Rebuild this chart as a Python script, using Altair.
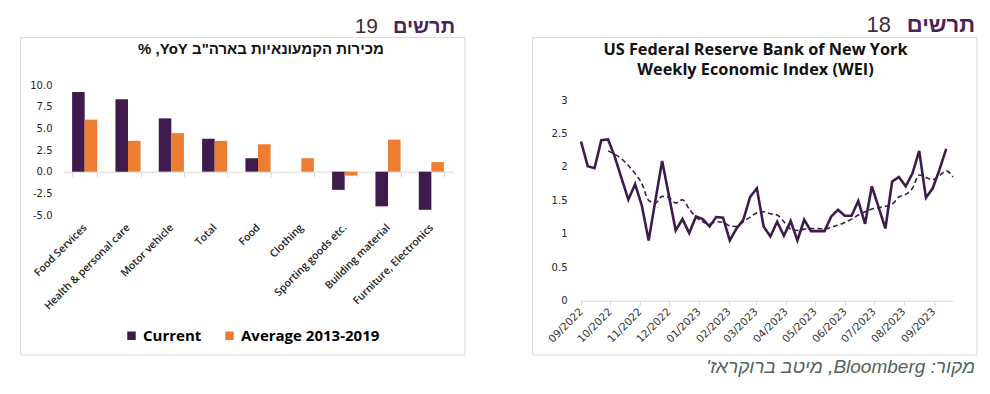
import altair as alt
import pandas as pd

# ---------------- data: chart 19 (bars) ----------------
categories = ["Food Services", "Health & personal care", "Motor vehicle", "Total", "Food",
              "Clothing", "Sporting goods etc.", "Building material", "Furniture, Electronics"]
current = [9.2, 8.35, 6.15, 3.8, 1.55, 0.0, -2.1, -4.0, -4.4]
average = [6.0, 3.55, 4.45, 3.55, 3.15, 1.55, -0.45, 3.7, 1.1]
series_names = ["Current", "Average 2013-2019"]
bar_colors = ["#3f1a4d", "#ed7d31"]
left_y_ticks = [-5, -2.5, 0, 2.5, 5, 7.5, 10]

# ---------------- data: chart 18 (WEI lines) ----------------
wei_start = "2022-09-03"
wei = [2.38, 2.01, 1.98, 2.40, 2.41, 2.15, 1.83, 1.51, 1.74, 1.42, 0.90, 1.50, 2.09, 1.57,
       1.05, 1.22, 1.01, 1.26, 1.22, 1.11, 1.25, 1.24, 0.90, 1.08, 1.21, 1.55, 1.68,
       1.11, 0.96, 1.18, 0.97, 1.19, 0.90, 1.21, 1.04, 1.04, 1.04, 1.26, 1.36, 1.27, 1.27,
       1.49, 1.15, 1.71, 1.40, 1.08, 1.78, 1.85, 1.71, 1.90, 2.24, 1.54, 1.68, 1.96, 2.27]
wei_avg_offset = 4
wei_avg = [2.24, 2.19, 2.12, 2.02, 1.90, 1.75, 1.50, 1.46, 1.56, 1.54,
           1.46, 1.51, 1.37, 1.25, 1.18, 1.15, 1.18, 1.17, 1.12, 1.11,
           1.18, 1.25, 1.31, 1.33, 1.30, 1.28, 1.18, 1.07, 1.05, 1.07,
           1.08, 1.08, 1.07, 1.10, 1.13, 1.17, 1.22, 1.28, 1.33, 1.37,
           1.39, 1.41, 1.44, 1.55, 1.59, 1.68, 1.88, 1.84, 1.81, 1.87,
           1.94, 1.85]
tick_months = [(2022, 9), (2022, 10), (2022, 11), (2022, 12), (2023, 1), (2023, 2), (2023, 3),
               (2023, 4), (2023, 5), (2023, 6), (2023, 7), (2023, 8), (2023, 9)]
right_y_ticks = [0, 0.5, 1, 1.5, 2, 2.5, 3]

# ---------------- text ----------------
RLE, PDF = "\u202B", "\u202C"
left_heading_word = "תרשים"
left_heading_num = "19"
right_heading_word = "תרשים"
right_heading_num = "18"
left_title = "מכירות הקמעונאיות בארה\"ב YoY, %"
right_title_1 = "US Federal Reserve Bank of New York"
right_title_2 = "Weekly Economic Index (WEI)"
footer = "מקור: Bloomberg, מיטב ברוקראז'"

# ---------------- frames ----------------
df_bars = pd.DataFrame({
    "category": categories * 2,
    "series": [series_names[0]] * len(categories) + [series_names[1]] * len(categories),
    "value": current + average,
})
dates = pd.date_range(wei_start, periods=len(wei_avg) + wei_avg_offset, freq="7D").strftime("%Y-%m-%d").tolist()
df_wei = pd.DataFrame({"date": dates[:len(wei)], "value": wei})
df_avg = pd.DataFrame({"date": dates[wei_avg_offset:wei_avg_offset + len(wei_avg)], "value": wei_avg})
one = pd.DataFrame({"a": [0]})

W, H = 974, 378
PURPLE = "#3f1a4d"
GRID = "#d9d9d9"

# ---------------- left chart ----------------
left_y0 = 207 - (5 / 15) * 130  # pixel of value 0
bars = alt.Chart(df_bars).mark_bar().encode(
    x=alt.X("category:N", sort=categories,
            scale=alt.Scale(domain=categories, range=[55, 445], paddingInner=0.42, paddingOuter=0.21),
            axis=alt.Axis(orient="bottom", offset=left_y0 - H, title=None,
                          domainColor=GRID, tickColor=GRID, tickSize=5, tickBand="extent",
                          labelAngle=-45, labelAlign="right", labelBaseline="middle",
                          labelPadding=49, labelOverlap=False, labelFlush=False, labelBound=False,
                          labelFont="Open Sans", labelFontSize=10.5, labelFontWeight=600,
                          labelColor="#222222")),
    xOffset=alt.XOffset("series:N", sort=series_names, scale=alt.Scale(domain=series_names, paddingInner=0)),
    y=alt.Y("value:Q",
            scale=alt.Scale(domain=[-5, 10], range=[207, 77], nice=False, zero=False),
            axis=alt.Axis(orient="left", offset=-55, values=left_y_ticks, title=None,
                          domain=False, ticks=False, tickSize=0, grid=False, labelPadding=11,
                          labelExpr="datum.value < 0 ? '-' + format(-datum.value, '.1f') : format(datum.value, '.1f')",
                          labelFont="DejaVu Sans", labelFontSize=10, labelColor="#262626")),
    color=alt.Color("series:N", sort=series_names,
                    scale=alt.Scale(domain=series_names, range=bar_colors),
                    legend=alt.Legend(orient="none", legendX=116, legendY=320, direction="horizontal",
                                      title=None, symbolType="square", symbolSize=72,
                                      symbolStrokeWidth=0, labelFont="Open Sans", labelFontSize=15,
                                      labelFontWeight="bold", labelColor="#000000",
                                      columnPadding=20, labelOffset=4, padding=0)),
)
left = alt.layer(bars)

# ---------------- right chart ----------------
x_scale = alt.Scale(type="utc",
                    domain=[alt.DateTime(year=2022, month=9, date=3, utc=True),
                            alt.DateTime(year=2023, month=9, date=23, utc=True)],
                    range=[573, 945])
y_scale_r = alt.Scale(domain=[0, 3], range=[292.7, 92], nice=False)
x_axis_r = alt.Axis(orient="bottom", offset=292.7 - H, title=None,
                    values=[alt.DateTime(year=y, month=m, date=3, utc=True) for y, m in tick_months],
                    format="%m/%Y", domainColor=GRID, tickColor=GRID, tickSize=4, grid=False,
                    labelAngle=-45, labelAlign="right", labelBaseline="middle", labelPadding=5,
                    labelOverlap=False, labelFlush=False, labelBound=False,
                    labelFont="DejaVu Sans", labelFontSize=10.5, labelColor="#333333")
y_axis_r = alt.Axis(orient="left", offset=-573, values=right_y_ticks, format="~g", title=None,
                    domain=False, ticks=False, tickSize=0, grid=False, labelPadding=14,
                    labelFont="DejaVu Sans", labelFontSize=10, labelColor="#262626")

solid = alt.Chart(df_wei).mark_line(color=PURPLE, strokeWidth=2.6).encode(
    x=alt.X("date:T", scale=x_scale, axis=x_axis_r),
    y=alt.Y("value:Q", scale=y_scale_r, axis=y_axis_r),
)
dashed = alt.Chart(df_avg).mark_line(color=PURPLE, strokeWidth=1.6, strokeDash=[5, 3],
                                     interpolate="monotone").encode(
    x=alt.X("date:T", scale=x_scale),
    y=alt.Y("value:Q", scale=y_scale_r),
)
right = alt.layer(solid, dashed)

# ---------------- decorations ----------------
def box(x1, x2, y1, y2):
    return alt.Chart(one).mark_rect(fill="white", fillOpacity=0, stroke=GRID, strokeWidth=1).encode(
        x=alt.value(x1), x2=alt.value(x2), y=alt.value(y1), y2=alt.value(y2))

def txt(s, x, y, **kw):
    return alt.Chart(one).mark_text(text=s, **kw).encode(x=alt.value(x), y=alt.value(y))

decor = [
    box(12.5, 457, 29.5, 347),
    box(524.5, 969, 29.5, 347),
    txt(left_heading_word, 447, 25, font="Liberation Sans", fontSize=20, fontWeight="bold",
        color="#4a2354", align="right", baseline="alphabetic"),
    txt(left_heading_num, 370, 25, font="Liberation Sans", fontSize=21, fontWeight="normal",
        color="#3b2f3f", align="right", baseline="alphabetic"),
    txt(right_heading_word, 967, 23.5, font="Liberation Sans", fontSize=22, fontWeight="bold",
        color="#4a2354", align="right", baseline="alphabetic"),
    txt(right_heading_num, 883, 23.5, font="Liberation Sans", fontSize=22, fontWeight="normal",
        color="#3b2f3f", align="right", baseline="alphabetic"),
    txt(RLE + left_title + PDF, 253, 41, font="Liberation Sans", fontSize=15, fontWeight="bold",
        color="#111111", align="center", baseline="middle"),
    txt(right_title_1, 747.5, 42, font="Open Sans", fontSize=16.3, fontWeight="bold",
        color="#111111", align="center", baseline="middle"),
    txt(right_title_2, 747.5, 62, font="Open Sans", fontSize=16.3, fontWeight="bold",
        color="#111111", align="center", baseline="middle"),
    txt(RLE + footer + PDF, 967, 359, font="Liberation Sans", fontSize=19, fontStyle="italic",
        color="#52655a", align="right", baseline="middle"),
]

chart = alt.layer(*decor, left, right).resolve_scale(
    x="independent", y="independent"
).properties(
    width=W, height=H, autosize=alt.AutoSizeParams(type="none"), padding=0, background="white"
).configure_view(stroke=None)

chart.save("out.html", embed_options={"renderer": "svg", "actions": False})
